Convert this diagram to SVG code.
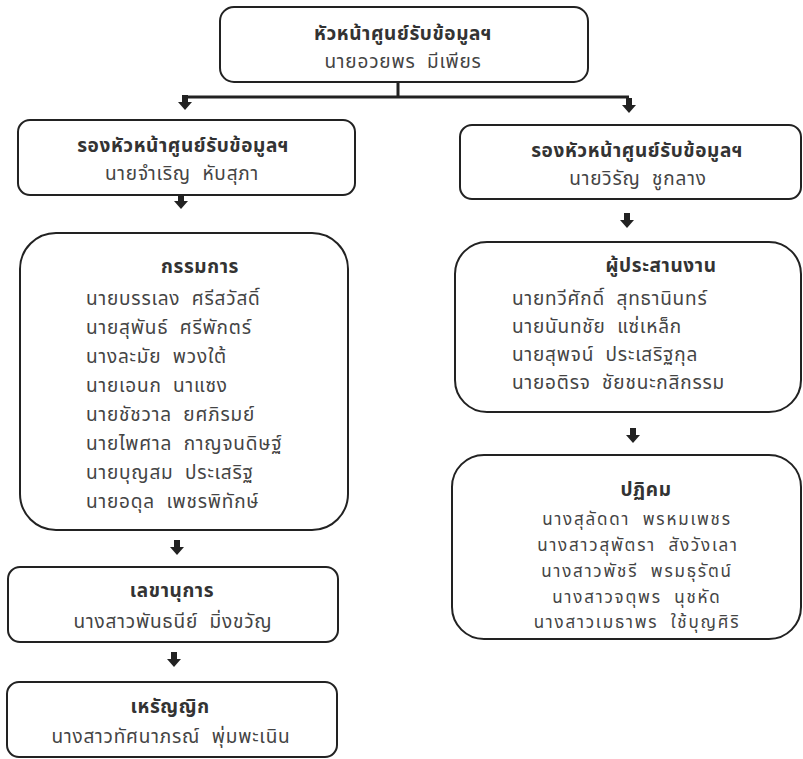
<svg xmlns="http://www.w3.org/2000/svg" xmlns:xlink="http://www.w3.org/1999/xlink" width="803" height="759" viewBox="0 0 803 759">
<style>
.box{fill:#fff;stroke:#222;stroke-width:2}
text{white-space:pre}
.t{font-family:"Noto Sans Thai","Noto Sans","DejaVu Sans",sans-serif;font-size:19px;fill:#333;text-anchor:middle;font-weight:bold;letter-spacing:0.6px}
.n{font-family:"Noto Sans Thai","Noto Sans","DejaVu Sans",sans-serif;font-size:19px;fill:#444;text-anchor:middle;letter-spacing:0.8px}
.s{font-size:17px;letter-spacing:1.8px}
.l{text-anchor:start}
.ln{stroke:#222;stroke-width:3;fill:none}
.ah{fill:#222}
</style>
<defs>
<path id="arr" d="M-3,-15 H3 V-8 H7 L0,0 L-7,-8 H-3 Z"/>
</defs>
<rect width="803" height="759" fill="#fff"/>
<g id="connectors">
<path class="ln" d="M398,82 V97 M185,97 H629"/>
<use xlink:href="#arr" class="ah" x="185" y="110"/>
<use xlink:href="#arr" class="ah" x="629" y="113"/>
<use xlink:href="#arr" class="ah" x="181" y="209"/>
<use xlink:href="#arr" class="ah" x="627" y="228"/>
<use xlink:href="#arr" class="ah" x="633" y="443"/>
<use xlink:href="#arr" class="ah" x="177" y="555"/>
<use xlink:href="#arr" class="ah" x="174" y="667"/>
</g>
<g id="head">
<rect class="box" x="220" y="7" width="368" height="75" rx="14"/>
<text class="t" x="403" y="40">หัวหน้าศูนย์รับข้อมูลฯ</text>
<text class="n" x="403" y="68">นายอวยพร  มีเพียร</text>
</g>
<g id="deputy-left">
<rect class="box" x="18" y="120" width="337" height="75" rx="12"/>
<text class="t" x="183" y="152">รองหัวหน้าศูนย์รับข้อมูลฯ</text>
<text class="n" x="182" y="180">นายจำเริญ  หับสุภา</text>
</g>
<g id="deputy-right">
<rect class="box" x="460" y="125" width="341" height="74" rx="12"/>
<text class="t" x="637" y="157">รองหัวหน้าศูนย์รับข้อมูลฯ</text>
<text class="n" x="638" y="185">นายวิรัญ  ชูกลาง</text>
</g>
<g id="committee">
<rect class="box" x="20" y="233" width="328" height="297" rx="36"/>
<text class="t" x="200" y="273">กรรมการ</text>
<text class="n l" x="86" y="305">นายบรรเลง  ศรีสวัสดิ์</text>
<text class="n l" x="86" y="334">นายสุพันธ์  ศรีพักตร์</text>
<text class="n l" x="86" y="363">นางละมัย  พวงใต้</text>
<text class="n l" x="86" y="392">นายเอนก  นาแซง</text>
<text class="n l" x="86" y="421">นายชัชวาล  ยศภิรมย์</text>
<text class="n l" x="86" y="450">นายไพศาล  กาญจนดิษฐ์</text>
<text class="n l" x="86" y="479">นายบุญสม  ประเสริฐ</text>
<text class="n l" x="86" y="508">นายอดุล  เพชรพิทักษ์</text>
</g>
<g id="coordinator">
<rect class="box" x="455" y="242" width="346" height="170" rx="32"/>
<text class="t" x="661" y="272">ผู้ประสานงาน</text>
<text class="n l" x="512" y="305">นายทวีศักดิ์  สุทธานินทร์</text>
<text class="n l" x="512" y="333">นายนันทชัย  แซ่เหล็ก</text>
<text class="n l" x="512" y="361">นายสุพจน์  ประเสริฐกุล</text>
<text class="n l" x="512" y="389">นายอติรจ  ชัยชนะกสิกรรม</text>
</g>
<g id="reception">
<rect class="box" x="452" y="455" width="349" height="184" rx="32"/>
<text class="t" x="646" y="496">ปฏิคม</text>
<text class="n s" x="637" y="525">นางสุลัดดา  พรหมเพชร</text>
<text class="n s" x="638" y="551">นางสาวสุพัตรา  สังวังเลา</text>
<text class="n s" x="637" y="577">นางสาวพัชรี  พรมธุรัตน์</text>
<text class="n s" x="637" y="603">นางสาวจตุพร  นุชหัด</text>
<text class="n s" x="637" y="628">นางสาวเมธาพร  ใช้บุญศิริ</text>
</g>
<g id="secretary">
<rect class="box" x="8" y="567" width="330" height="75" rx="12"/>
<text class="t" x="172" y="597">เลขานุการ</text>
<text class="n" x="173" y="628">นางสาวพันธนีย์  มิ่งขวัญ</text>
</g>
<g id="treasurer">
<rect class="box" x="7" y="682" width="330" height="75" rx="12"/>
<text class="t" x="170" y="713">เหรัญญิก</text>
<text class="n" x="171" y="743">นางสาวทัศนาภรณ์  พุ่มพะเนิน</text>
</g>
</svg>
